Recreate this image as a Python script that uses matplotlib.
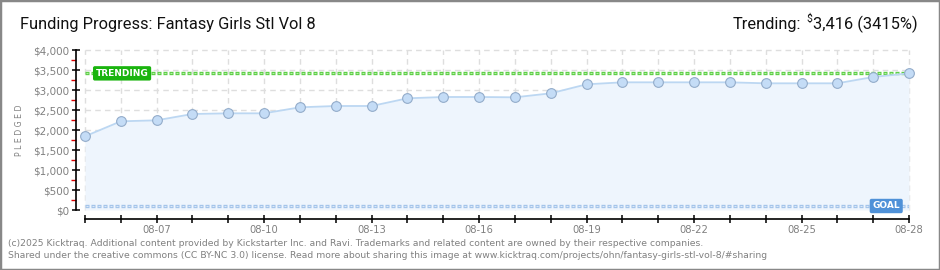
import matplotlib
matplotlib.use("Agg")
import matplotlib.pyplot as plt
from matplotlib.patches import Rectangle
import numpy as np

# ---- data -------------------------------------------------------------
dates = ["08-05", "08-06", "08-07", "08-08", "08-09", "08-10", "08-11", "08-12",
         "08-13", "08-14", "08-15", "08-16", "08-17", "08-18", "08-19", "08-20",
         "08-21", "08-22", "08-23", "08-24", "08-25", "08-26", "08-27", "08-28"]
pledged = [1842, 2217, 2242, 2400, 2417, 2417, 2567, 2600,
           2600, 2792, 2825, 2825, 2817, 2917, 3142, 3192,
           3192, 3192, 3192, 3167, 3167, 3167, 3325, 3416]
goal = 100
trending = 3416
trending_pct = 3415
y_ticks = [0, 500, 1000, 1500, 2000, 2500, 3000, 3500, 4000]
y_minor = [250, 750, 1250, 1750, 2250, 2750, 3250, 3750]
label_dates = ["08-07", "08-10", "08-13", "08-16", "08-19", "08-22", "08-25", "08-28"]

title = "Funding Progress: Fantasy Girls Stl Vol 8"
footer = [
    "(c)2025 Kicktraq. Additional content provided by Kickstarter Inc. and Ravi. "
    "Trademarks and related content are owned by their respective companies.",
    "Shared under the creative commons (CC BY-NC 3.0) license. Read more about sharing "
    "this image at www.kicktraq.com/projects/ohn/fantasy-girls-stl-vol-8/#sharing",
]

GRAY = "#808080"
TITLE_FONT = ["Roboto", "DejaVu Sans"]
TITLE_SIZE = 11.8

W, H = 940, 270
fig = plt.figure(figsize=(W / 100, H / 100), dpi=100)
fig.patch.set_facecolor("white")

ax = fig.add_axes([76 / W, 51 / H, 833 / W, 169 / H])
x = np.arange(len(dates))
ax.set_xlim(-0.25, x[-1])
ax.set_ylim(-225, 4000)

# dashed grid only over the data area
ax.hlines(y_ticks[1:], 0, x[-1], colors="#dedede", linestyles=(0, (4, 3)), lw=1,
          zorder=1, clip_on=False)
ax.vlines(x, 0, y_ticks[-1], colors="#dedede", linestyles=(0, (4, 3)), lw=1,
          zorder=1, clip_on=False)

# pledged area + line
ax.fill_between(x, pledged, 0, color="#eef5fd", zorder=2, lw=0)
ax.plot(x, pledged, color="#bcd7f2", lw=1.3, zorder=4, marker="o", ms=7,
        mfc="#c4dcf6", mec="#93acca", mew=0.8, clip_on=False)


def box_line(y, outer, inner, z):
    # square-dotted reference line: coloured squares with a lighter centre
    lw_o, lw_i = 2.4, 0.8
    on, off = 2.88, 1.44
    ax.hlines(y, 0, x[-1], colors=outer, lw=lw_o,
              linestyles=(0, (on / lw_o, off / lw_o)), zorder=z)
    ax.hlines(y, 0, x[-1], colors=inner, lw=lw_i,
              linestyles=((on + off - 0.72) / lw_i, (1.44 / lw_i, 2.88 / lw_i)),
              zorder=z + 0.1)


box_line(trending, "#5ccf45", "#b5efa6", 3)
box_line(goal, "#a2c3ea", "#dce9f8", 3)

ax.text(0.3, trending, "TRENDING", ha="left", va="center", color="white",
        fontsize=6.5, fontweight="bold", zorder=6,
        bbox=dict(boxstyle="round,pad=0.3,rounding_size=0.2", fc="#1ab40e", ec="none"))
ax.text(22.75, goal, "GOAL", ha="right", va="center", color="white",
        fontsize=6.5, fontweight="bold", zorder=6,
        bbox=dict(boxstyle="round,pad=0.3,rounding_size=0.2", fc="#4f91d8", ec="none"))

# axes styling
for s in ("top", "right"):
    ax.spines[s].set_visible(False)
ax.spines["left"].set_bounds(0, y_ticks[-1])
ax.spines["bottom"].set_bounds(0, x[-1])
ax.spines["left"].set_linewidth(1.2)
ax.spines["bottom"].set_linewidth(1.2)

ax.set_yticks(y_ticks)
ax.set_yticklabels([f"${v:,}" for v in y_ticks])
ax.set_yticks(y_minor, minor=True)
ax.tick_params(axis="y", which="major", direction="inout", length=6, width=1.1,
               colors="black", labelcolor=GRAY, labelsize=7.5, pad=2)
ax.tick_params(axis="y", which="minor", direction="out", length=3.5, width=1,
               colors="#e00000")

ax.set_xticks(x)
ax.set_xticklabels([d if d in label_dates else "" for d in dates])
ax.tick_params(axis="x", which="major", direction="inout", length=6, width=1.1,
               colors="black", labelcolor=GRAY, labelsize=7.2, pad=1.5)

fig.text(20 / W, 1 - 130 / H, "P L E D G E D", rotation=90, ha="center", va="center",
         fontsize=5.6, color=GRAY)

# header
fig.text(20 / W, 1 - 24 / H, title, ha="left", va="center", fontsize=TITLE_SIZE,
         family=TITLE_FONT, color="#111111")

renderer = fig.canvas.get_renderer()
t_val = fig.text(918 / W, 1 - 24 / H, f"{trending:,} ({trending_pct}%)", ha="right",
                 va="center", fontsize=TITLE_SIZE, family=TITLE_FONT, color="#111111")
bb = t_val.get_window_extent(renderer)
t_dol = fig.text((bb.x0 - 1) / W, 1 - 19 / H, "$", ha="right", va="center",
                 fontsize=7.5, family=TITLE_FONT, color="#111111")
bb2 = t_dol.get_window_extent(renderer)
fig.text((bb2.x0 - 5) / W, 1 - 24 / H, "Trending:", ha="right", va="center",
         fontsize=TITLE_SIZE, family=TITLE_FONT, color="#111111")

# footer
fig.text(8 / W, 1 - 243 / H, footer[0], ha="left", va="center", fontsize=6.7,
         color=GRAY)
fig.text(8 / W, 1 - 255 / H, footer[1], ha="left", va="center", fontsize=6.7,
         color=GRAY)

fig.patches.append(Rectangle((0, 0), 1, 1, transform=fig.transFigure, fill=False,
                             ec="#888888", lw=2.5))

fig.savefig("out.png", dpi=100, facecolor="white")
